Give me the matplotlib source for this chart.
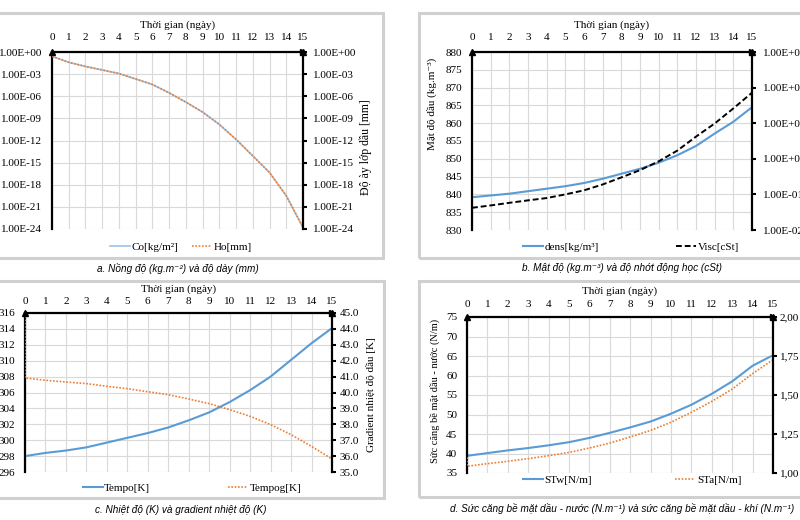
import matplotlib
matplotlib.use("Agg")
import matplotlib.pyplot as plt
from matplotlib.patches import Rectangle
from matplotlib.ticker import NullLocator, FuncFormatter

plt.rcParams['font.family'] = ['Liberation Serif', 'DejaVu Serif']

W, H = 800, 520
days = list(range(16))

# a. Co / Ho (log scale, both curves overlap)
co_vals = [2.6e-01, 4.0e-02, 1.1e-02, 3.7e-03, 1.2e-03, 2.2e-04, 3.9e-05, 2.9e-06,
           1.6e-07, 7.1e-09, 1.5e-10, 1.4e-12, 8.1e-15, 4.5e-17, 3.2e-20, 1.6e-24]
ho_vals = [2.6e-01, 4.0e-02, 1.1e-02, 3.7e-03, 1.2e-03, 2.2e-04, 3.9e-05, 2.9e-06,
           1.6e-07, 7.1e-09, 1.5e-10, 1.4e-12, 8.1e-15, 4.5e-17, 3.2e-20, 1.6e-24]

# b. density (left) and viscosity (right, log)
dens_start = 830
dens_vals = [839.2, 839.7, 840.2, 840.9, 841.6, 842.3, 843.2, 844.4,
             845.8, 847.2, 848.9, 851.0, 853.6, 857.1, 860.4, 864.5]
visc_vals = [4.2e-02, 4.9e-02, 5.8e-02, 6.8e-02, 7.9e-02, 1.0e-01, 1.3e-01, 1.9e-01,
             3.0e-01, 4.8e-01, 8.5e-01, 1.7, 4.2, 9.8, 26, 72]

# c. temperature (left) and temperature gradient (right)
tempo_start = 296
tempo_vals = [298.0, 298.4, 298.7, 299.1, 299.7, 300.3, 300.9, 301.6,
              302.5, 303.5, 304.8, 306.3, 308.0, 310.1, 312.2, 314.1]
tempog_start = 44.8
tempog_vals = [40.91, 40.77, 40.66, 40.56, 40.39, 40.24, 40.05, 39.86,
               39.59, 39.30, 38.92, 38.50, 37.98, 37.35, 36.61, 35.82]

# d. surface tension oil-water (left) and oil-air (right)
stw_start = 43.0
stw_vals = [39.4, 40.1, 40.8, 41.4, 42.1, 42.9, 44.0, 45.3,
            46.7, 48.2, 50.2, 52.5, 55.3, 58.5, 62.5, 65.2]
sta_start = 1.10
sta_vals = [1.043, 1.06, 1.075, 1.092, 1.111, 1.132, 1.16, 1.192,
            1.231, 1.273, 1.325, 1.389, 1.459, 1.538, 1.637, 1.726]

BLUE = '#5b9bd5'
LIGHTBLUE = '#9dc3e6'
ORANGE = '#ed7d31'
GRID = '#d9d9d9'
CAPFONT = ['Liberation Sans', 'DejaVu Sans']
TS = 8

fig = plt.figure(figsize=(W / 100, H / 100), dpi=100)


def px(l, t, r, b):
    return [l / W, 1 - b / H, (r - l) / W, (b - t) / H]


def sci(v, pos):
    return f"{v:.2E}"


def panel(rect, lpad, rpad, tpad):
    ax = fig.add_axes(px(*rect))
    ax2 = ax.twinx()
    ax.set_xlim(0, 15)
    ax.set_xticks(days)
    ax.xaxis.tick_top()
    ax.xaxis.set_label_position('top')
    ax.set_xlabel('Thời gian (ngày)', fontsize=TS, labelpad=4)
    ax.tick_params(axis='x', length=0, pad=tpad, labelsize=TS)
    ax.tick_params(axis='y', length=0, pad=lpad, labelsize=TS)
    ax2.tick_params(axis='y', length=3, width=1.5, pad=rpad, labelsize=TS)
    ax.grid(True, color=GRID, lw=0.8)
    ax.set_axisbelow(True)
    for s in ['right', 'bottom']:
        ax.spines[s].set_visible(False)
    for s in ['left', 'top', 'bottom']:
        ax2.spines[s].set_visible(False)
    ax.spines['left'].set_linewidth(1.6)
    ax.spines['top'].set_linewidth(1.6)
    ax2.spines['right'].set_linewidth(1.6)
    # arrow heads at axis ends
    kw = dict(transform=ax.transAxes, clip_on=False, color='black', markersize=4.5, zorder=10)
    ax2.plot([0], [1], marker='^', **kw)
    ax2.plot([1], [1], marker='>', **kw)
    ax2.plot([1], [1], marker='^', **kw)
    return ax, ax2


# boxes around each panel
for (l, t, r, b) in [(-5, 13, 383, 258), (419, 13, 805, 258), (-5, 281, 384, 498), (419, 281, 805, 497)]:
    fig.patches.append(Rectangle((l / W, 1 - b / H), (r - l) / W, (b - t) / H, transform=fig.transFigure,
                                 fill=False, ec='#d0d0d0', lw=2.2))

# ---- a ----
ax, ax2 = panel((52, 52, 303, 229), 7, 4, 7)
l1, = ax.plot(days, co_vals, color=LIGHTBLUE, lw=1.2, label='Co[kg/m²]')
l2, = ax2.plot(days, ho_vals, color=ORANGE, lw=1.2, ls=(0, (1, 1)), label='Ho[mm]')
for a in (ax, ax2):
    a.set_yscale('log')
    a.set_ylim(1e-24, 1e0)
    a.set_yticks([10.0 ** -k for k in range(0, 25, 3)])
    a.yaxis.set_minor_locator(NullLocator())
    a.yaxis.set_major_formatter(FuncFormatter(sci))
fig.text(366 / W, 1 - 147 / H, 'Độ ày lớp dầu [mm]', rotation=90, ha='center', va='center', fontsize=8.5)
fig.legend(handles=[l1, l2], loc='center', bbox_to_anchor=(181 / W, 1 - 247 / H), ncol=2, frameon=False,
           fontsize=8, handlelength=1.8, handletextpad=0.15, columnspacing=1.2)

# ---- b ----
ax, ax2 = panel((472, 52, 752, 230), 7, 5, 7)
l1, = ax.plot([0] + days, [dens_start] + dens_vals, color=BLUE, lw=1.5, label='dens[kg/m³]')
l2, = ax2.plot(days, visc_vals, color='black', lw=1.4, ls=(0, (3, 1.5)), label='Visc[cSt]')
ax.set_ylim(830, 880)
ax.set_yticks(range(830, 881, 5))
ax2.set_yscale('log')
ax2.set_ylim(1e-2, 1e3)
ax2.set_yticks([10.0 ** k for k in range(-2, 4)])
ax2.yaxis.set_minor_locator(NullLocator())
ax2.yaxis.set_major_formatter(FuncFormatter(sci))
fig.text(432 / W, 1 - 104 / H, 'Mật độ dầu (kg.m⁻³)', rotation=90, ha='center', va='center', fontsize=8)
fig.legend(handles=[l1, l2], loc='center', bbox_to_anchor=(631 / W, 1 - 247 / H), ncol=2, frameon=False,
           fontsize=8, handlelength=1.8, handletextpad=0.15, columnspacing=7.0)

# ---- c ----
ax, ax2 = panel((25, 313, 332, 472), 7, 2.5, 5)
l1, = ax.plot([0] + days, [tempo_start] + tempo_vals, color=BLUE, lw=1.5, label='Tempo[K]')
l2, = ax2.plot([0] + days, [tempog_start] + tempog_vals, color=ORANGE, lw=1.2, ls=(0, (1, 1)),
               label='Tempog[K]')
ax.set_ylim(296, 316)
ax.set_yticks(range(296, 317, 2))
ax2.set_ylim(35, 45)
ax2.set_yticks(range(35, 46))
ax2.yaxis.set_major_formatter(FuncFormatter(lambda v, p: f"{v:.1f}"))
fig.text(371 / W, 1 - 395 / H, 'Gradient nhiệt độ dầu [K]', rotation=90, ha='center', va='center', fontsize=8)
fig.legend(handles=[l1, l2], loc='center', bbox_to_anchor=(192 / W, 1 - 488 / H), ncol=2, frameon=False,
           fontsize=8, handlelength=1.8, handletextpad=0.15, columnspacing=7.0)

# ---- d ----
ax, ax2 = panel((467, 317, 773, 473), 7, 2, 6)
l1, = ax.plot([0] + days, [stw_start] + stw_vals, color=BLUE, lw=1.5, label='STw[N/m]')
l2, = ax2.plot([0] + days, [sta_start] + sta_vals, color=ORANGE, lw=1.2, ls=(0, (1, 1)), label='STa[N/m]')
ax.set_ylim(35, 75)
ax.set_yticks(range(35, 76, 5))
ax2.set_ylim(1.0, 2.0)
ax2.set_yticks([1.0, 1.25, 1.5, 1.75, 2.0])
ax2.yaxis.set_major_formatter(FuncFormatter(lambda v, p: f"{v:.2f}".replace('.', ',')))
fig.text(435 / W, 1 - 391 / H, 'Sức căng bề mặt dầu - nước (N/m)', rotation=90, ha='center', va='center',
         fontsize=7.5)
fig.legend(handles=[l1, l2], loc='center', bbox_to_anchor=(632 / W, 1 - 480 / H), ncol=2, frameon=False,
           fontsize=8, handlelength=1.8, handletextpad=0.15, columnspacing=7.5)

# captions
caps = [(178, 268, 'a. Nồng độ (kg.m⁻²) và độ dày (mm)'),
        (622, 268, 'b. Mật độ (kg.m⁻³) và độ nhớt động học (cSt)'),
        (181, 510, 'c. Nhiệt độ (K) và gradient nhiệt độ (K)'),
        (622, 509, 'd. Sức căng bề mặt dầu - nước (N.m⁻¹) và sức căng bề mặt dầu - khí (N.m⁻¹)')]
for x, y, s in caps:
    fig.text(x / W, 1 - y / H, s, ha='center', va='center', fontsize=7.2, style='italic', family=CAPFONT)

fig.savefig('out.png', dpi=100)
